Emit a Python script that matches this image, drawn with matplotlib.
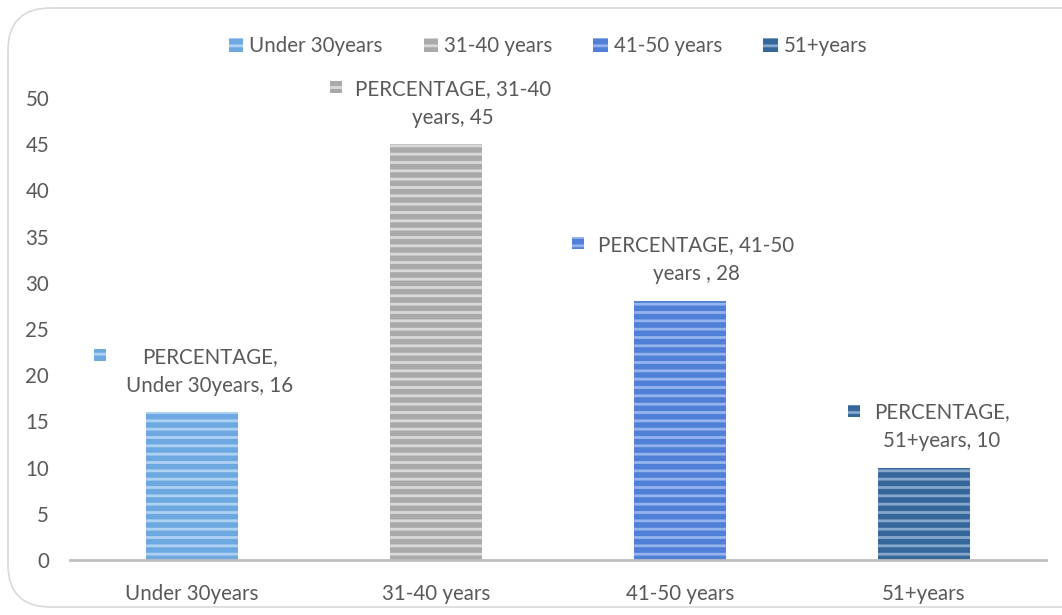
import matplotlib.pyplot as plt
from matplotlib.patches import Rectangle, FancyBboxPatch

plt.rcParams['font.family'] = ['Lato', 'DejaVu Sans']
plt.rcParams['hatch.linewidth'] = 2.0

# data
categories = ['Under 30years', '31-40 years', '41-50 years', '51+years']
percentage = [16, 45, 28, 10]
label_text = ['PERCENTAGE,\nUnder 30years, 16',
              'PERCENTAGE, 31-40\nyears, 45',
              'PERCENTAGE, 41-50\nyears , 28',
              'PERCENTAGE,\n51+years, 10']

# colours (face, stripe)
face_cols = ['#6ea8e0', '#a9a9a9', '#4f7fd6', '#36679a']
stripe_cols = ['#b0d2f2', '#d9d9d9', '#95b4ee', '#86a8cc']
text_col = '#595959'
fs = 14.8

fig = plt.figure(figsize=(10.62, 6.15), dpi=100)

# outer rounded border
border = FancyBboxPatch((8 / 1062, 8 / 615), 1.2, 1 - 16 / 615,
                        boxstyle='round,pad=0,rounding_size=0.04',
                        transform=fig.transFigure, facecolor='none',
                        edgecolor='#d9d9d9', linewidth=1.2, mutation_aspect=1062 / 615)
fig.patches.append(border)

ax = fig.add_axes([70 / 1062, 1 - 560 / 615, 976 / 1062, 462 / 615])
x = range(len(categories))
ax.bar(x, percentage, width=0.38, color=face_cols, edgecolor=stripe_cols,
       linewidth=0, hatch='--')

ax.set_xlim(-0.5, 3.5)
ax.set_ylim(0, 50)
ax.set_yticks(range(0, 55, 5))
ax.set_xticks(list(x))
ax.set_xticklabels(categories)
for s in ['top', 'right', 'left']:
    ax.spines[s].set_visible(False)
ax.spines['bottom'].set_color('#bfbfbf')
ax.spines['bottom'].set_linewidth(2)
ax.tick_params(axis='both', length=0, labelsize=fs, colors=text_col)
ax.tick_params(axis='y', pad=15)
ax.tick_params(axis='x', pad=17)

# data labels with little legend keys
text_dx = [18, 17, 16, 18]   # pixels from bar centre
text_dy = [16, 16, 17, 17]
key_dx = [-92, -100, -102, -70]
key_dy = [57, 57, 58, 57]
for i, v in enumerate(percentage):
    ax.annotate(label_text[i], xy=(i, v), xytext=(text_dx[i], text_dy[i]),
                textcoords='offset pixels', ha='center', va='bottom',
                fontsize=fs, color=text_col, linespacing=1.55,
                annotation_clip=False)
    kx, ky = ax.transData.transform((i, v))
    kx, ky = fig.transFigure.inverted().transform((kx + key_dx[i] - 6, ky + key_dy[i] - 6))
    fig.patches.append(Rectangle((kx, ky), 12 / 1062, 12 / 615, transform=fig.transFigure,
                                 facecolor=face_cols[i], edgecolor=stripe_cols[i],
                                 linewidth=0, hatch='--'))

handles = [Rectangle((0, 0), 1, 1, facecolor=face_cols[i], edgecolor=stripe_cols[i],
                     linewidth=0, hatch='--') for i in range(4)]
fig.legend(handles, categories, loc='center', bbox_to_anchor=(548 / 1062, 1 - 46 / 615),
           ncol=4, frameon=False, fontsize=fs, handlelength=0.7, handleheight=0.7,
           handletextpad=0.3, columnspacing=2.0, labelcolor=text_col)

fig.savefig('out.png', dpi=100)
